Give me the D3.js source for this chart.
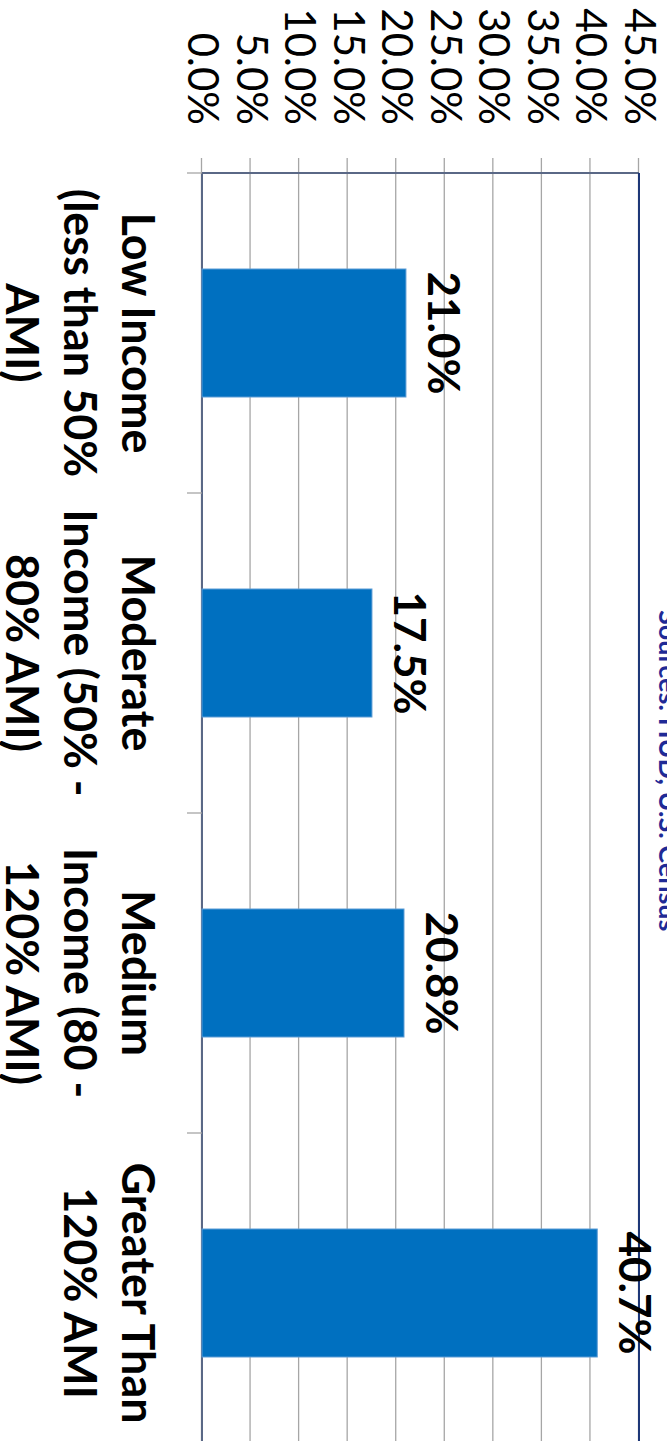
<!DOCTYPE html>
<html>
<head>
<meta charset="utf-8">
<script src="https://cdn.jsdelivr.net/npm/d3@7"></script>
<style>
  html, body { margin: 0; padding: 0; background: #fff; }
  svg { display: block; }
</style>
</head>
<body>
<div id="chart"></div>
<script>
// ---------------------------------------------------------------------------
// Data: share of households by income band (chart is drawn rotated 90°)
// ---------------------------------------------------------------------------
const categories = ["Low Income", "Moderate Income", "Medium Income", "Greater Than 120% AMI"];
const categoryLines = [
  ["Low Income", "(less than 50%", "AMI)"],
  ["Moderate", "Income (50% -", "80% AMI)"],
  ["Medium", "Income (80 -", "120% AMI)"],
  ["Greater Than", "120% AMI"],
];
const shares = [0.210, 0.175, 0.208, 0.407];
const valueTicks = [0, 0.05, 0.10, 0.15, 0.20, 0.25, 0.30, 0.35, 0.40, 0.45];
const sourceNote = "Sources: HUD, U.S. Census";

const pageW = 667, pageH = 1441;
// unrotated frame: x' runs down the page, y' runs right-to-left
const plotLeft = 173, plotRight = 1453, plotTop = 28, plotBottom = 465;
const fontFamily = 'Lato, "Open Sans", sans-serif';

const svg = d3.select('#chart').append('svg')
  .attr('width', pageW)
  .attr('height', pageH);

const g = svg.append('g').attr('transform', `translate(${pageW},0) rotate(90)`);

const x = d3.scaleBand()
  .domain(categories)
  .range([plotLeft, plotRight])
  .paddingInner(0.6)
  .paddingOuter(0.3);

const y = d3.scaleLinear()
  .domain([0, 0.45])
  .range([plotBottom, plotTop]);

const fmt = d3.format('.1%');

// Value axis + gridlines (ticks stick out 15px past the plot edge)
const yAxis = g.append('g')
  .attr('transform', `translate(${plotLeft - 15},0)`)
  .call(d3.axisLeft(y)
    .tickValues(valueTicks)
    .tickFormat(fmt)
    .tickSizeInner(-(plotRight - plotLeft + 15))
    .tickSizeOuter(0)
    .tickPadding(33));
yAxis.select('.domain').remove();
yAxis.selectAll('line')
  .attr('stroke', '#a6a6a6')
  .attr('stroke-width', 1.3);
yAxis.selectAll('text')
  .attr('fill', '#000')
  .style('font-family', fontFamily)
  .style('font-size', '42px');

// Zero baseline, plot left border, top (45%) border
g.append('line')
  .attr('x1', plotLeft).attr('x2', plotRight)
  .attr('y1', y(0)).attr('y2', y(0))
  .attr('stroke', '#5a6886').attr('stroke-width', 2);
g.append('line')
  .attr('x1', plotLeft).attr('x2', plotLeft)
  .attr('y1', y(0.45)).attr('y2', y(0))
  .attr('stroke', '#5a6886').attr('stroke-width', 2);
g.append('line')
  .attr('x1', plotLeft).attr('x2', plotRight)
  .attr('y1', y(0.45)).attr('y2', y(0.45))
  .attr('stroke', '#1d3777').attr('stroke-width', 2);

// Category boundary ticks
const step = x.step();
const bounds = categories.map(c => x(c) - (step - x.bandwidth()) / 2);
bounds.push(bounds[bounds.length - 1] + step);
g.selectAll('.cat-tick')
  .data(bounds)
  .join('line')
  .attr('class', 'cat-tick')
  .attr('x1', d => d).attr('x2', d => d)
  .attr('y1', y(0)).attr('y2', y(0) + 15)
  .attr('stroke', '#a6a6a6')
  .attr('stroke-width', 1.3);

// Bars
g.selectAll('.bar')
  .data(categories)
  .join('rect')
  .attr('class', 'bar')
  .attr('x', d => x(d))
  .attr('width', x.bandwidth())
  .attr('y', (d, i) => y(shares[i]))
  .attr('height', (d, i) => y(0) - y(shares[i]))
  .attr('fill', '#0070c0')
  .attr('stroke', '#5b9bd5')
  .attr('stroke-width', 1);

// Data labels
g.selectAll('.val')
  .data(categories)
  .join('text')
  .attr('class', 'val')
  .attr('x', d => x(d) + x.bandwidth() / 2)
  .attr('y', (d, i) => y(shares[i]) - 22)
  .attr('text-anchor', 'middle')
  .attr('fill', '#000')
  .style('font-family', fontFamily)
  .style('font-weight', 700)
  .style('font-size', '44px')
  .text((d, i) => fmt(shares[i]));

// Category labels (wrapped)
const catText = g.selectAll('.cat')
  .data(categories)
  .join('text')
  .attr('class', 'cat')
  .attr('x', d => x(d) + x.bandwidth() / 2)
  .attr('y', 545)
  .attr('text-anchor', 'middle')
  .attr('fill', '#000')
  .style('font-family', fontFamily)
  .style('font-weight', 700)
  .style('font-size', '45px');
catText.selectAll('tspan')
  .data((d, i) => categoryLines[i].map(t => ({ t, cx: x(d) + x.bandwidth() / 2 })))
  .join('tspan')
  .attr('x', d => d.cx)
  .attr('dy', (d, i) => i === 0 ? 0 : 58)
  .text(d => d.t);

// Source note, mostly cut off at the page edge
g.append('text')
  .attr('x', 610)
  .attr('y', 8)
  .attr('fill', '#1f2a96')
  .style('font-family', fontFamily)
  .style('font-weight', 700)
  .style('font-size', '27px')
  .text(sourceNote);
</script>
</body>
</html>
